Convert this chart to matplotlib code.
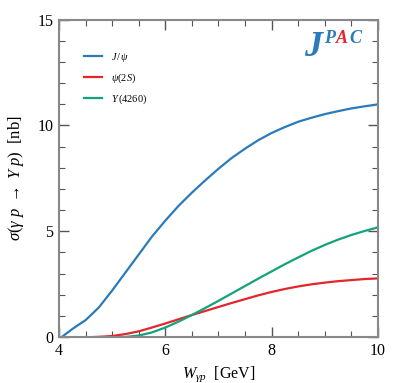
import matplotlib
matplotlib.use("Agg")
import matplotlib.pyplot as plt
from matplotlib.ticker import MultipleLocator

# ---- data ----
w_jpsi = [4.05, 4.25, 4.5, 4.75, 5.0, 5.25, 5.5, 5.75, 6.0, 6.25, 6.5, 6.75, 7.0, 7.25, 7.5,
          7.75, 8.0, 8.25, 8.5, 8.75, 9.0, 9.25, 9.5, 9.75, 10.0]
s_jpsi = [0.0, 0.38, 0.80, 1.40, 2.20, 3.05, 3.90, 4.75, 5.50, 6.20, 6.82, 7.40, 7.95, 8.46, 8.90,
          9.30, 9.64, 9.92, 10.17, 10.36, 10.53, 10.67, 10.80, 10.90, 10.99]

w_psi2s = [4.64, 4.75, 5.0, 5.25, 5.5, 5.75, 6.0, 6.25, 6.5, 6.75, 7.0, 7.25, 7.5, 7.75, 8.0,
           8.25, 8.5, 8.75, 9.0, 9.25, 9.5, 9.75, 10.0]
s_psi2s = [0.0, 0.01, 0.05, 0.14, 0.27, 0.45, 0.64, 0.84, 1.04, 1.23, 1.42, 1.61, 1.79, 1.97, 2.13,
           2.27, 2.39, 2.49, 2.57, 2.64, 2.69, 2.74, 2.77]

w_y4260 = [5.16, 5.25, 5.5, 5.75, 6.0, 6.25, 6.5, 6.75, 7.0, 7.25, 7.5, 7.75, 8.0, 8.25, 8.5,
           8.75, 9.0, 9.25, 9.5, 9.75, 10.0]
s_y4260 = [0.0, 0.005, 0.07, 0.22, 0.45, 0.73, 1.04, 1.37, 1.71, 2.06, 2.41, 2.76, 3.10, 3.44, 3.76,
           4.07, 4.35, 4.60, 4.82, 5.01, 5.18]

labels = [r"$J\,/\,\psi$", r"$\psi(2S)$", r"$Y\,(4260)$"]
colors = ["#2b7bba", "#e3262b", "#12a37a"]

plt.rcParams["font.family"] = ["Liberation Serif", "DejaVu Serif"]
plt.rcParams["mathtext.fontset"] = "custom"
plt.rcParams["mathtext.rm"] = "Liberation Serif"
plt.rcParams["mathtext.it"] = "Liberation Serif:italic"
plt.rcParams["mathtext.bf"] = "Liberation Serif:bold"

fig = plt.figure(figsize=(3.99, 3.83), dpi=100)
ax = fig.add_axes([0.148, 0.12, 0.799, 0.829])

for (w, s), lab, c in zip([(w_jpsi, s_jpsi), (w_psi2s, s_psi2s), (w_y4260, s_y4260)], labels, colors):
    ax.plot(w, s, color=c, lw=1.6, label=lab, solid_joinstyle="round")

ax.set_xlim(4, 10)
ax.set_ylim(0, 15)
ax.xaxis.set_major_locator(MultipleLocator(2))
ax.xaxis.set_minor_locator(MultipleLocator(0.5))
ax.yaxis.set_major_locator(MultipleLocator(5))
ax.yaxis.set_minor_locator(MultipleLocator(1))

frame_col = "#888888"
for sp in ax.spines.values():
    sp.set_color(frame_col)
    sp.set_linewidth(1.5)
ax.tick_params(which="both", direction="in", top=True, right=True, color="#555555", labelsize=11.5, pad=4)
ax.tick_params(which="major", length=7, width=1.0)
ax.tick_params(which="minor", length=4, width=0.8)

ax.set_xlabel(r"$W_{\gamma p}$  [GeV]", fontsize=11.5, labelpad=4)
ax.set_ylabel(r"$\sigma(\gamma\ p\ \rightarrow\ Y\ p)$  [nb]", fontsize=12, labelpad=8)

leg = ax.legend(loc="upper left", bbox_to_anchor=(0.055, 0.925), frameon=False, fontsize=7.5,
                handlelength=1.7, labelspacing=0.75, handletextpad=0.9, borderpad=0.2)

# JPAC logo
ax.text(0.77, 0.885, "J", transform=ax.transAxes, fontsize=26, color="#2b7bba",
        fontweight="bold", fontstyle="italic", ha="left", va="baseline")
ax.text(0.83, 0.925, "P", transform=ax.transAxes, fontsize=13, color="#2b7bba",
        fontweight="bold", fontstyle="italic", ha="left", va="baseline")
ax.text(0.867, 0.925, "A", transform=ax.transAxes, fontsize=13, color="#e3262b",
        fontweight="bold", fontstyle="italic", ha="left", va="baseline")
ax.text(0.91, 0.925, "C", transform=ax.transAxes, fontsize=13, color="#2b7bba",
        fontweight="bold", fontstyle="italic", ha="left", va="baseline")

fig.savefig("out.png", dpi=100)
